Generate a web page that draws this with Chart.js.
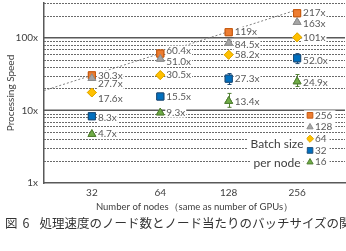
<!DOCTYPE html>
<html>
<head>
<meta charset="utf-8">
<script src="https://cdn.jsdelivr.net/npm/chart.js@4.4.1/dist/chart.umd.min.js"></script>
<style>
  html, body { margin: 0; padding: 0; background: #fff; width: 346px; height: 251px; overflow: hidden; position: relative; }
  #wrap { position: absolute; left: 0; top: -9px; width: 351px; height: 225px; }
  #cap { position: absolute; left: 5px; top: 213px; font: 12.5px "Noto Sans CJK JP"; color: #333; white-space: nowrap; }
  #cap span { margin-left: 5px; margin-right: 10px; }
</style>
</head>
<body>
<div id="wrap"><canvas id="c"></canvas></div>
<div id="cap">図<span>6</span>処理速度のノード数とノード当たりのバッチサイズの関係</div>
<script>
// number of nodes (x axis, log2 spaced)
const nodes = [32, 64, 128, 256];

// speed-up per batch size per node
const batchSizes = ['256', '128', '64', '32', '16'];
const speed256 = [30.3, 60.4, 119, 217];
const speed128 = [27.7, 51.0, 84.5, 163];
const speed64 = [17.6, 30.5, 58.2, 101];
const speed32 = [8.3, 15.5, 27.3, 52.0];
const speed16 = [4.7, 9.3, 13.4, 24.9];

// error bar ranges (null = none drawn)
const errLow32 = [null, null, 22.7, 44];
const errHigh32 = [null, null, 32.1, 60.4];
const errLow16 = [null, null, 11.0, 21.3];
const errHigh16 = [null, null, 17.1, 31.1];
const errLow128 = [null, null, 84.5, null];
const errHigh128 = [null, null, 93, null];

// ideal scaling reference line (dotted)
const idealX = [4.3, 8];
const idealY = [18.7, 242];

// y tick labels
const yTicks = [1, 10, 100];

// small vertical nudges for value labels (px)
const nudge256 = [0, -3, 0, 0];
const nudge128 = [6, 3, 2, 2];
const nudge64 = [6, 0, 0, 0];
const nudge32 = [2, 0, 0, 2];
const nudge16 = [0, 0, 1, 1];

const series = [
  { label: batchSizes[0], data: speed256, nudge: nudge256, style: 'rect', r: 5, bg: '#ED7D31', bd: '#C55A11' },
  { label: batchSizes[1], data: speed128, nudge: nudge128, style: 'triangle', r: 4.5, bg: '#A5A5A5', bd: '#8C8C8C', lo: errLow128, hi: errHigh128 },
  { label: batchSizes[2], data: speed64, nudge: nudge64, style: 'rectRot', r: 4.5, bg: '#FFC000', bd: '#E0A800' },
  { label: batchSizes[3], data: speed32, nudge: nudge32, style: 'rect', r: 5, bg: '#0070C0', bd: '#1F4E79', lo: errLow32, hi: errHigh32 },
  { label: batchSizes[4], data: speed16, nudge: nudge16, style: 'triangle', r: 4.5, bg: '#70AD47', bd: '#507E32', lo: errLow16, hi: errHigh16 }
];

const FONT = 'Lato';

const datasets = series.map(s => ({
  type: 'scatter',
  label: s.label,
  data: s.data.map((v, i) => ({ x: Math.log2(nodes[i]), y: v })),
  pointStyle: s.style,
  pointRadius: s.r,
  backgroundColor: s.bg,
  borderColor: s.bd,
  pointBorderWidth: 1,
  showLine: false
}));

datasets.unshift({
  type: 'line',
  label: 'ideal',
  data: idealX.map((x, i) => ({ x: x, y: idealY[i] })),
  borderColor: '#7F7F7F',
  borderWidth: 1,
  borderDash: [2, 2],
  pointRadius: 0,
  fill: false
});

const gridPlugin = {
  id: 'grid',
  beforeDatasetsDraw(chart) {
    const { ctx, chartArea: a, scales } = chart;
    const y = scales.y;
    ctx.save();
    const minor = [2, 3, 4, 5, 6, 7, 8, 9, 20, 30, 40, 50, 60, 70, 80, 90, 200, 300];
    ctx.strokeStyle = '#6A6A6A';
    ctx.lineWidth = 1;
    ctx.setLineDash([2, 1]);
    minor.forEach(v => {
      const py = Math.round(y.getPixelForValue(v)) + 0.5;
      ctx.beginPath(); ctx.moveTo(a.left, py); ctx.lineTo(a.right, py); ctx.stroke();
    });
    ctx.setLineDash([]);
    ctx.strokeStyle = '#595959';
    ctx.lineWidth = 1.5;
    [10, 100].forEach(v => {
      const py = y.getPixelForValue(v);
      ctx.beginPath(); ctx.moveTo(a.left, py); ctx.lineTo(a.right, py); ctx.stroke();
    });
    ctx.restore();
  },
  afterDatasetsDraw(chart) {
    const { ctx, chartArea: a, scales } = chart;
    const xs = scales.x, ys = scales.y;
    ctx.save();
    // error bars
    series.forEach(s => {
      if (!s.lo) return;
      ctx.strokeStyle = s.bd;
      ctx.lineWidth = 1;
      s.lo.forEach((lo, i) => {
        if (lo == null) return;
        const px = Math.round(xs.getPixelForValue(Math.log2(nodes[i]))) + 0.5;
        const p1 = ys.getPixelForValue(lo), p2 = ys.getPixelForValue(s.hi[i]);
        ctx.beginPath();
        ctx.moveTo(px, p1); ctx.lineTo(px, p2);
        ctx.moveTo(px - 2, p1); ctx.lineTo(px + 2, p1);
        ctx.moveTo(px - 2, p2); ctx.lineTo(px + 2, p2);
        ctx.stroke();
      });
    });
    // redraw markers on top of error bars
    chart.getSortedVisibleDatasetMetas().forEach(m => {
      if (m.type === 'scatter') m.controller.draw();
    });
    // value labels
    ctx.font = '10px ' + FONT;
    ctx.textBaseline = 'middle';
    ctx.textAlign = 'left';
    series.forEach(s => {
      s.data.forEach((v, i) => {
        const px = xs.getPixelForValue(Math.log2(nodes[i])) + 6;
        const py = ys.getPixelForValue(v) + s.nudge[i];
        const t = (v >= 100 ? v.toFixed(0) : v.toFixed(1)) + 'x';
        const w = ctx.measureText(t).width;
        ctx.fillStyle = '#fff';
        ctx.fillRect(px - 1, py - 5, w + 2, 10);
        ctx.fillStyle = '#595959';
        ctx.fillText(t, px, py);
      });
    });
    // legend
    const lx = a.right - 35, ly0 = ys.getPixelForValue(10) + 5, step = 11.7;
    series.forEach((s, i) => {
      const py = ly0 + i * step;
      const w = ctx.measureText(s.label).width;
      ctx.fillStyle = '#fff';
      ctx.fillRect(lx - 6, py - 5, w + 14, 10);
      ctx.fillStyle = s.bg;
      ctx.strokeStyle = s.bd;
      Chart.helpers.drawPoint(ctx, { pointStyle: s.style, radius: s.r * 0.8, borderWidth: 1, rotation: 0 }, lx, py);
      ctx.fillStyle = '#595959';
      ctx.fillText(s.label, lx + 5, py);
    });
    ctx.font = '12px ' + FONT;
    ctx.textAlign = 'center';
    [['Batch size', ly0 + 29], ['per node', ly0 + 48]].forEach(([t, py]) => {
      const w = ctx.measureText(t).width;
      ctx.fillStyle = '#fff';
      ctx.fillRect(lx - 33 - w / 2 - 3, py - 7, w + 6, 14);
      ctx.fillStyle = '#404040';
      ctx.fillText(t, lx - 33, py);
    });
    ctx.restore();
  }
};

new Chart(document.getElementById('c'), {
  data: { datasets: datasets },
  options: {
    responsive: true,
    maintainAspectRatio: false,
    animation: false,
    events: [],
    layout: { padding: 0 },
    plugins: { legend: { display: false }, tooltip: { enabled: false } },
    scales: {
      x: {
        type: 'linear',
        min: 4.3,
        max: 8.7,
        grid: { display: false, drawTicks: false },
        border: { color: '#595959', width: 1.5 },
        afterBuildTicks: s => { s.ticks = nodes.map(n => ({ value: Math.log2(n) })); },
        afterFit: s => { s.height = 33; },
        ticks: {
          padding: 4,
          color: '#404040',
          font: { family: FONT, size: 10 },
          callback: v => String(Math.round(Math.pow(2, v)))
        },
        title: {
          display: true,
          text: 'Number of nodes（same as number of GPUs）',
          color: '#404040',
          font: { family: FONT, size: 9.5 },
          padding: { top: 0, bottom: 3 }
        }
      },
      y: {
        type: 'logarithmic',
        min: 1,
        max: 300,
        grid: { display: false, drawTicks: false },
        border: { color: '#595959', width: 1.5 },
        afterBuildTicks: s => { s.ticks = yTicks.map(v => ({ value: v })); },
        afterFit: s => { s.width = 44; },
        ticks: {
          padding: 6,
          color: '#404040',
          font: { family: FONT, size: 10 },
          callback: v => v + 'x'
        },
        title: {
          display: true,
          text: 'Processing Speed',
          color: '#404040',
          font: { family: FONT, size: 10 },
          padding: { top: 5, bottom: 0 }
        }
      }
    }
  },
  plugins: [gridPlugin]
});
</script>
</body>
</html>
